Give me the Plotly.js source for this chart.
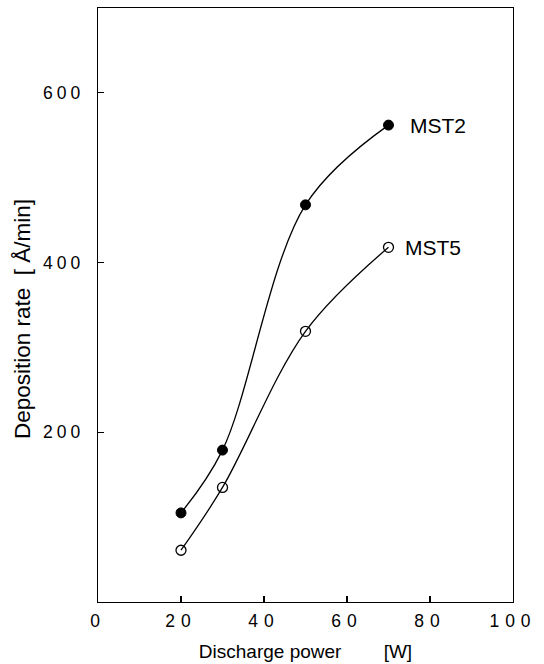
<!DOCTYPE html>
<html><head><meta charset="utf-8">
<script src="https://cdn.plot.ly/plotly-3.0.1.min.js"></script>
<style>
html,body{margin:0;padding:0;background:#fff}
#chart{width:544px;height:664px}
.xtick text {letter-spacing:6px}
.ytick text {letter-spacing:4px}
</style></head><body><div id="chart"></div>
<script>
const power = [20, 30, 50, 70];
const mst2 = [105, 179, 468, 562];
const mst5 = [61, 135, 319, 418];
const seriesNames = ['MST2', 'MST5'];
const xTickVals = [0, 20, 40, 60, 80, 100];
const yTickVals = [200, 400, 600];
const xTitle = 'Discharge power';
const xUnit = '[W]';
const yTitle = 'Deposition rate';
const yUnit = '[\u00a0Å/min]';

const lineStyle = {color: '#000', width: 1.3, shape: 'spline', smoothing: 1};
const traces = [
  {x: power, y: mst2, name: seriesNames[0], mode: 'lines+markers', line: lineStyle,
   marker: {symbol: 'circle', size: 10, color: '#000', line: {color: '#000', width: 1}}},
  {x: power, y: mst5, name: seriesNames[1], mode: 'lines+markers', line: lineStyle,
   marker: {symbol: 'circle-open', size: 10, color: '#000', line: {color: '#000', width: 1.3}}}
];

const FONT = 'Liberation Sans, Arial, Helvetica, sans-serif';
const axisCommon = {
  showline: true, mirror: true, linecolor: '#000', linewidth: 1.2,
  ticks: 'inside', ticklen: 6, tickcolor: '#000', tickwidth: 1.2,
  showgrid: false, zeroline: false,
  tickfont: {family: FONT, size: 17.5, color: '#000'}
};
const nb = n => '\u00a0'.repeat(n);

const layout = {
  width: 544, height: 664,
  margin: {l: 98, r: 31, t: 8, b: 62},
  paper_bgcolor: '#fff', plot_bgcolor: '#fff',
  showlegend: false,
  xaxis: Object.assign({}, axisCommon, {
    range: [0, 100], tickvals: xTickVals, ticktext: xTickVals.map(String),
    ticklabelstandoff: 3,
    title: {text: xTitle + nb(8) + xUnit, standoff: 14,
      font: {family: FONT, size: 19, color: '#000'}}
  }),
  yaxis: Object.assign({}, axisCommon, {
    range: [0, 700], tickvals: yTickVals, ticktext: yTickVals.map(String),
    ticklabelstandoff: 9
  }),
  annotations: [
    {xref: 'paper', yref: 'paper', x: 0, y: 0.4764, xshift: -76, textangle: -90,
     text: yTitle + nb(2) + yUnit, showarrow: false, xanchor: 'center', yanchor: 'middle',
     font: {family: FONT, size: 22.5, color: '#000'}},
    {x: power[3], y: mst2[3], xref: 'x', yref: 'y', text: seriesNames[0], showarrow: false,
     xanchor: 'left', yanchor: 'middle', xshift: 19,
     font: {family: FONT, size: 21, color: '#000'}},
    {x: power[3], y: mst5[3], xref: 'x', yref: 'y', text: seriesNames[1], showarrow: false,
     xanchor: 'left', yanchor: 'middle', xshift: 14,
     font: {family: FONT, size: 21, color: '#000'}}
  ]
};

Plotly.newPlot('chart', traces, layout, {staticPlot: true, displayModeBar: false});
</script></body></html>
